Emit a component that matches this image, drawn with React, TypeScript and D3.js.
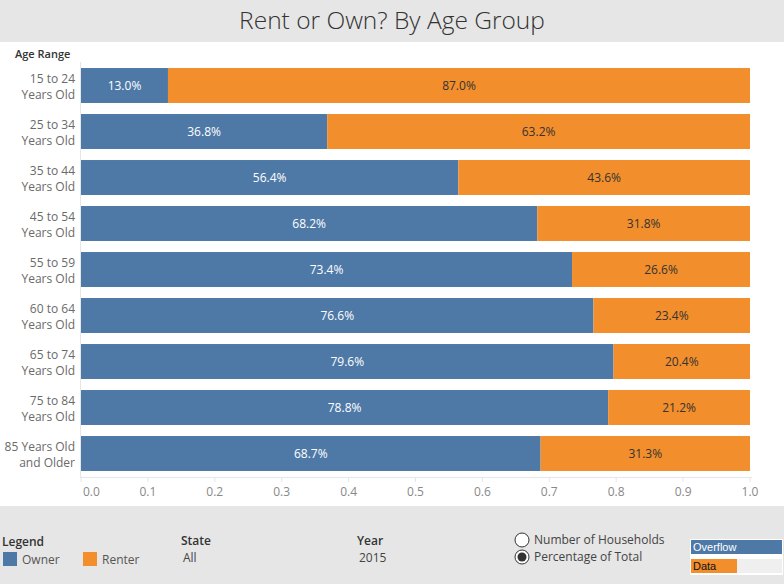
import * as d3 from "d3";

const ageGroups = [
  "15 to 24|Years Old",
  "25 to 34|Years Old",
  "35 to 44|Years Old",
  "45 to 54|Years Old",
  "55 to 59|Years Old",
  "60 to 64|Years Old",
  "65 to 74|Years Old",
  "75 to 84|Years Old",
  "85 Years Old|and Older",
];
const ownerPct = [13.0, 36.8, 56.4, 68.2, 73.4, 76.6, 79.6, 78.8, 68.7];
const renterPct = [87.0, 63.2, 43.6, 31.8, 26.6, 23.4, 20.4, 21.2, 31.3];
const xTicks = [0, 0.1, 0.2, 0.3, 0.4, 0.5, 0.6, 0.7, 0.8, 0.9, 1.0];

const W = 784;
const H = 584;
const OWNER = "#4e79a7";
const RENTER = "#f28e2b";
const FONT = "'Open Sans', 'Noto Sans', sans-serif";

export default function App() {
  const x = d3.scaleLinear().domain([0, 1]).range([81, 750]);
  const y = d3
    .scaleBand<string>()
    .domain(ageGroups)
    .range([62.5, 476.5])
    .paddingInner(0.24)
    .paddingOuter(0.12);
  const bw = y.bandwidth();

  const rows = ageGroups.map((g, i) => ({
    g,
    own: ownerPct[i] / 100,
    rent: renterPct[i] / 100,
  }));

  return (
    <svg
      width={W}
      height={H}
      style={{ position: "absolute", left: 0, top: 0, fontFamily: FONT }}
    >
      <rect width={W} height={H} fill="#fff" />
      {/* title band */}
      <rect x={0} y={0} width={W} height={42} fill="#e6e6e6" />
      <text
        x={392}
        y={29}
        textAnchor="middle"
        fontSize={24.5}
        fontWeight={300}
        fill="#333"
      >
        Rent or Own? By Age Group
      </text>

      <text x={15} y={58} fontSize={11} fontWeight={600} fill="#333">
        Age Range
      </text>

      {/* axes lines */}
      <line x1={80.5} x2={80.5} y1={62} y2={477} stroke="#e6e6e6" />
      <line x1={80} x2={752} y1={477.5} y2={477.5} stroke="#e6e6e6" />

      {rows.map((r) => {
        const y0 = y(r.g)!;
        const [l1, l2] = r.g.split("|");
        const xo = x(r.own);
        return (
          <g key={r.g}>
            <rect x={x(0)} y={y0} width={xo - x(0)} height={bw} fill={OWNER} />
            <rect x={xo} y={y0} width={x(r.own + r.rent) - xo} height={bw} fill={RENTER} />
            <text
              x={(x(0) + xo) / 2}
              y={y0 + bw / 2 + 4}
              textAnchor="middle"
              fontSize={12}
              fill="#fff"
            >
              {(r.own * 100).toFixed(1)}%
            </text>
            <text
              x={(xo + x(r.own + r.rent)) / 2}
              y={y0 + bw / 2 + 4}
              textAnchor="middle"
              fontSize={12}
              fill="#333"
            >
              {(r.rent * 100).toFixed(1)}%
            </text>
            <text x={75} y={y0 + bw / 2 - 3} textAnchor="end" fontSize={12} fill="#6a6a6a">
              {l1}
            </text>
            <text x={75} y={y0 + bw / 2 + 13} textAnchor="end" fontSize={12} fill="#6a6a6a">
              {l2}
            </text>
          </g>
        );
      })}

      {xTicks.map((t, i) => (
        <g key={t}>
          <line x1={x(t)} x2={x(t)} y1={477} y2={482} stroke="#e6e6e6" />
          <text
            x={i === 0 ? x(t) + 2 : x(t)}
            y={496}
            textAnchor={i === 0 ? "start" : "middle"}
            fontSize={12}
            fill="#888"
          >
            {t.toFixed(1)}
          </text>
        </g>
      ))}

      {/* bottom panel */}
      <rect x={0} y={506} width={W} height={H - 506} fill="#e6e6e6" />
      <text x={2} y={546} fontSize={12} fontWeight={600} fill="#333">
        Legend
      </text>
      <rect x={3} y={552} width={14} height={14} fill={OWNER} />
      <text x={22} y={564} fontSize={12} fill="#555">
        Owner
      </text>
      <rect x={83} y={552} width={14} height={14} fill={RENTER} />
      <text x={102} y={564} fontSize={12} fill="#555">
        Renter
      </text>

      <text x={181} y={545} fontSize={12} fontWeight={600} fill="#333">
        State
      </text>
      <text x={183} y={562} fontSize={12} fill="#444">
        All
      </text>
      <text x={357} y={545} fontSize={12} fontWeight={600} fill="#333">
        Year
      </text>
      <text x={359} y={562} fontSize={12} fill="#444">
        2015
      </text>

      <circle cx={522} cy={540} r={7} fill="#fff" stroke="#333" />
      <text x={534} y={544} fontSize={12} fill="#444">
        Number of Households
      </text>
      <circle cx={522} cy={557} r={7} fill="#fff" stroke="#333" />
      <circle cx={522} cy={557} r={4.5} fill="#333" />
      <text x={534} y={561} fontSize={12} fill="#444">
        Percentage of Total
      </text>

      <rect x={690} y={539} width={93} height={36} fill="#fff" />
      <rect x={691} y={540} width={91} height={14} fill={OWNER} />
      <text x={693} y={551} fontSize={11} fill="#fff" fontFamily="Arial, 'Liberation Sans'">
        Overflow
      </text>
      <rect x={691} y={559} width={91} height={14} fill="#efefef" />
      <rect x={691} y={559} width={46} height={14} fill={RENTER} />
      <text x={693} y={570} fontSize={11} fill="#111" fontFamily="Arial, 'Liberation Sans'">
        Data
      </text>
    </svg>
  );
}
